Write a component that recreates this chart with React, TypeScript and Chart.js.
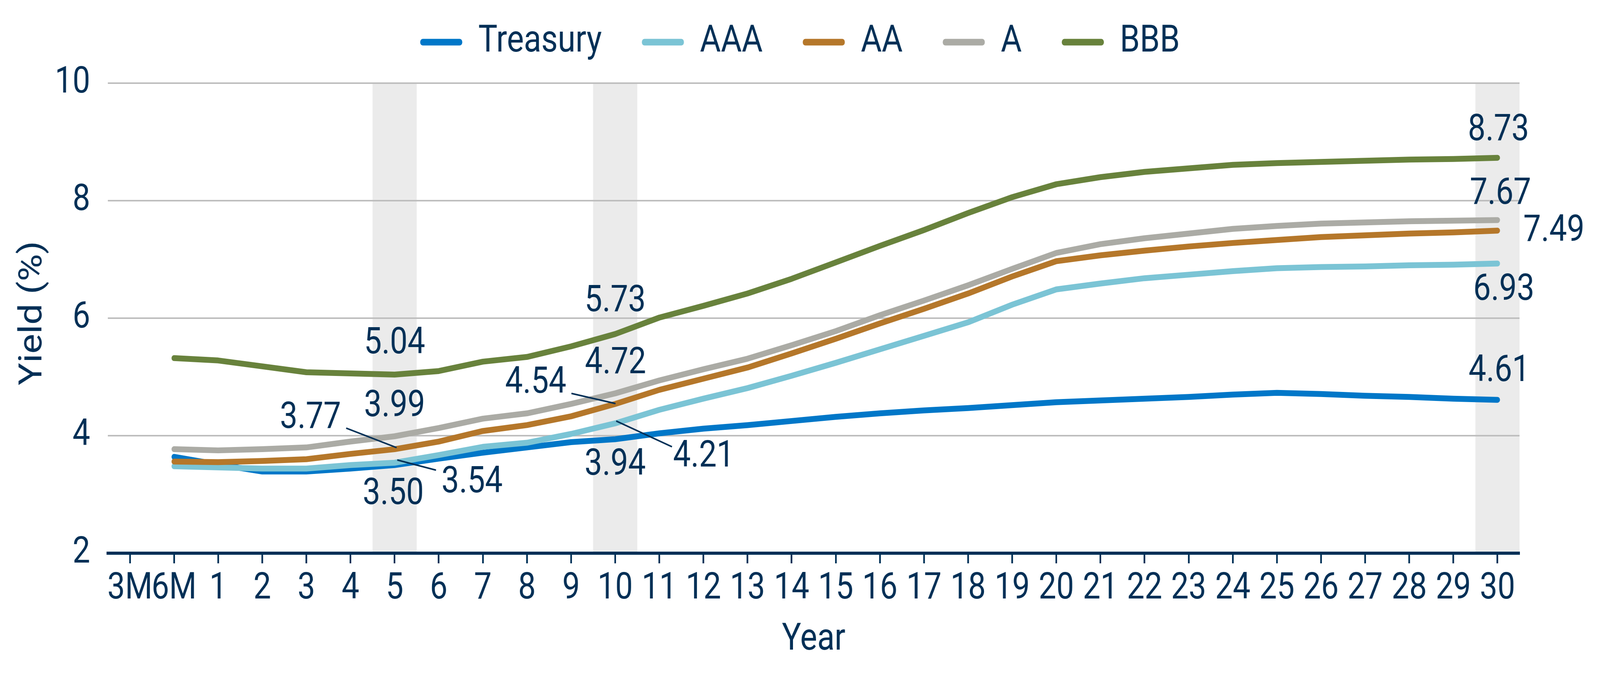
import React, { useEffect, useRef, useState } from 'react';
import { Chart, registerables } from 'chart.js';

Chart.register(...registerables);

// ---------- data ----------
const categories = [
  '3M', '6M', '1', '2', '3', '4', '5', '6', '7', '8', '9', '10',
  '11', '12', '13', '14', '15', '16', '17', '18', '19', '20',
  '21', '22', '23', '24', '25', '26', '27', '28', '29', '30',
];

const treasury = [
  null, 3.64, 3.51, 3.39, 3.39, 3.44, 3.50, 3.61, 3.71, 3.80, 3.89, 3.94,
  4.04, 4.12, 4.18, 4.25, 4.32, 4.38, 4.43, 4.47, 4.52, 4.57,
  4.60, 4.63, 4.66, 4.70, 4.73, 4.71, 4.68, 4.66, 4.63, 4.61,
];

const aaa = [
  null, 3.48, 3.46, 3.44, 3.44, 3.50, 3.54, 3.67, 3.81, 3.88, 4.03, 4.21,
  4.44, 4.63, 4.81, 5.02, 5.24, 5.47, 5.70, 5.93, 6.23, 6.49,
  6.59, 6.68, 6.74, 6.80, 6.85, 6.87, 6.88, 6.90, 6.91, 6.93,
];

const aa = [
  null, 3.56, 3.55, 3.57, 3.60, 3.69, 3.77, 3.90, 4.08, 4.18, 4.33, 4.54,
  4.78, 4.97, 5.16, 5.40, 5.65, 5.91, 6.16, 6.42, 6.71, 6.97,
  7.07, 7.15, 7.22, 7.28, 7.33, 7.38, 7.41, 7.44, 7.46, 7.49,
];

const singleA = [
  null, 3.77, 3.75, 3.77, 3.80, 3.90, 3.99, 4.13, 4.29, 4.38, 4.54, 4.72,
  4.94, 5.13, 5.31, 5.54, 5.78, 6.05, 6.30, 6.56, 6.84, 7.11,
  7.26, 7.36, 7.44, 7.52, 7.57, 7.61, 7.63, 7.65, 7.66, 7.67,
];

const bbb = [
  null, 5.32, 5.28, 5.18, 5.08, 5.06, 5.04, 5.10, 5.26, 5.34, 5.52, 5.73,
  6.01, 6.21, 6.42, 6.67, 6.95, 7.23, 7.50, 7.79, 8.06, 8.28,
  8.40, 8.49, 8.55, 8.61, 8.64, 8.66, 8.68, 8.70, 8.71, 8.73,
];

const seriesNames = ['Treasury', 'AAA', 'AA', 'A', 'BBB'];
const seriesValues = [treasury, aaa, aa, singleA, bbb];
const highlightedCategories = ['5', '10', '30'];
const yMin = 2;
const yMax = 10;
const yStep = 2;
const xTitle = 'Year';
const yTitle = 'Yield (%)';

// ---------- styles ----------
const DESIGN_W = 4792;
const DESIGN_H = 1729;
const NAVY = '#002F56';
const seriesColors = ['#0077C8', '#7BC4D5', '#B5772A', '#ABABA5', '#68823C'];
const NUM_FONT = "Roboto, sans-serif";
const TEXT_FONT = "Roboto, sans-serif";

const bandPlugin = {
  id: 'bands',
  beforeDraw(chart: any, _args: any, opts: any) {
    const { ctx, chartArea, scales } = chart;
    const x = scales.x;
    const labels: string[] = chart.data.labels;
    ctx.save();
    ctx.fillStyle = opts.color;
    (opts.categories || []).forEach((c: string) => {
      const i = labels.indexOf(c);
      if (i < 0) return;
      const l = x.getPixelForValue(i - 0.5);
      const r = x.getPixelForValue(i + 0.5);
      ctx.fillRect(l, chartArea.top, r - l, chartArea.bottom - chartArea.top);
    });
    ctx.restore();
  },
};

const axisTitlePlugin = {
  id: 'axisTitles',
  afterDraw(chart: any, _args: any, opts: any) {
    const { ctx, chartArea } = chart;
    ctx.save();
    ctx.fillStyle = opts.color;
    ctx.font = `${opts.size}px ${opts.family}`;
    ctx.textAlign = 'center';
    ctx.textBaseline = 'middle';
    ctx.fillText(opts.xText, (chartArea.left + chartArea.right) / 2, chartArea.bottom + opts.xOffset);
    ctx.translate(opts.yX, (chartArea.top + chartArea.bottom) / 2 + opts.yShift);
    ctx.rotate(-Math.PI / 2);
    ctx.fillText(opts.yText, 0, 0);
    ctx.restore();
  },
};

const valueLabelPlugin = {
  id: 'valueLabels',
  afterDatasetsDraw(chart: any, _args: any, opts: any) {
    const { ctx } = chart;
    const labels: string[] = chart.data.labels;
    ctx.save();
    ctx.font = `${opts.size}px ${opts.family}`;
    ctx.fillStyle = opts.color;
    ctx.strokeStyle = opts.color;
    ctx.lineWidth = opts.leaderWidth;
    ctx.textAlign = 'center';
    ctx.textBaseline = 'middle';
    (opts.items || []).forEach((it: any) => {
      const idx = labels.indexOf(it.cat);
      const meta = chart.getDatasetMeta(it.series);
      const el = meta.data[idx];
      const v = chart.data.datasets[it.series].data[idx];
      if (!el || v == null) return;
      if (it.leader) {
        ctx.beginPath();
        ctx.moveTo(el.x + it.leader[0], el.y + it.leader[1]);
        ctx.lineTo(el.x + it.leader[2], el.y + it.leader[3]);
        ctx.stroke();
      }
      ctx.fillText(Number(v).toFixed(2), el.x + it.dx, el.y + it.dy);
    });
    ctx.restore();
  },
};

export default function App() {
  const canvasRef = useRef<HTMLCanvasElement | null>(null);
  const [sx, setSx] = useState(1);
  const [sy, setSy] = useState(1);

  useEffect(() => {
    document.body.style.margin = '0';
    document.body.style.overflow = 'hidden';
    setSx(window.innerWidth / DESIGN_W);
    setSy(window.innerHeight / DESIGN_H);
  }, []);

  useEffect(() => {
    const canvas = canvasRef.current;
    if (!canvas) return;

    const datasets = seriesNames.map((name, i) => ({
      label: name,
      data: seriesValues[i],
      borderColor: seriesColors[i],
      backgroundColor: seriesColors[i],
      borderWidth: 15,
      pointRadius: 0,
      pointHoverRadius: 0,
      tension: 0,
      borderCapStyle: 'round',
      borderJoinStyle: 'round',
      order: seriesNames.length - i,
    }));

    const chart = new Chart(canvas, {
      type: 'line',
      data: { labels: categories, datasets: datasets as any },
      plugins: [bandPlugin, valueLabelPlugin, axisTitlePlugin],
      options: {
        animation: false,
        responsive: true,
        maintainAspectRatio: false,
        devicePixelRatio: 1,
        events: [],
        layout: { padding: { top: -60, left: 0, right: 0, bottom: 0 } },
        plugins: {
          tooltip: { enabled: false },
          legend: {
            display: true,
            position: 'top',
            weight: 3000,
            labels: {
              boxWidth: 126,
              boxHeight: 17,
              padding: 120,
              color: NAVY,
              font: { family: TEXT_FONT, size: 96 },
              generateLabels: (ch: any) =>
                ch.data.datasets.map((ds: any, i: number) => ({
                  text: ds.label,
                  fillStyle: ds.borderColor,
                  strokeStyle: ds.borderColor,
                  lineWidth: 0,
                  hidden: false,
                  datasetIndex: i,
                  borderRadius: 8,
                  fontColor: NAVY,
                })),
            },
          } as any,
          title: {
            display: true,
            text: '',
            font: { size: 1, lineHeight: 1 },
            padding: { top: 0, bottom: 46 },
          },
          bands: { color: '#EBEBEB', categories: highlightedCategories },
          axisTitles: {
            color: NAVY,
            family: TEXT_FONT,
            size: 96,
            xText: xTitle,
            xOffset: 223,
            yText: yTitle,
            yX: 100,
            yShift: -13,
          },
          valueLabels: {
            family: NUM_FONT,
            size: 94,
            color: NAVY,
            leaderWidth: 4,
            items: [
              // year 5
              { series: 4, cat: '5', dx: 0, dy: -78 },
              { series: 3, cat: '5', dx: 0, dy: -75 },
              { series: 2, cat: '5', dx: -252, dy: -78, leader: [6, -4, -145, -54] },
              { series: 1, cat: '5', dx: 232, dy: 52, leader: [8, -7, 124, 19] },
              { series: 0, cat: '5', dx: -4, dy: 76 },
              // year 10
              { series: 4, cat: '10', dx: 0, dy: -82 },
              { series: 3, cat: '10', dx: 1, dy: -75 },
              { series: 2, cat: '10', dx: -238, dy: -52, leader: [1, -1, -131, -27] },
              { series: 1, cat: '10', dx: 265, dy: 87, leader: [3, -6, 170, 60] },
              { series: 0, cat: '10', dx: 0, dy: 67 },
              // year 30
              { series: 4, cat: '30', dx: 3, dy: -69 },
              { series: 3, cat: '30', dx: 9, dy: -65 },
              { series: 2, cat: '30', dx: 169, dy: 3 },
              { series: 1, cat: '30', dx: 19, dy: 69 },
              { series: 0, cat: '30', dx: 5, dy: -72 },
            ],
          },
        } as any,
        scales: {
          x: {
            type: 'category',
            offset: true,
            grid: {
              display: true,
              drawOnChartArea: false,
              drawTicks: true,
              tickLength: 26,
              tickWidth: 5,
              tickColor: NAVY,
            },
            border: { display: true, color: NAVY, width: 8 },
            ticks: {
              autoSkip: false,
              maxRotation: 0,
              minRotation: 0,
              padding: 10,
              color: NAVY,
              font: { family: NUM_FONT, size: 94 },
            },
            title: { display: false },
            afterFit: (s: any) => {
              s.height = 312;
            },
          },
          y: {
            type: 'linear',
            position: 'left',
            min: yMin,
            max: yMax,
            ticks: {
              stepSize: yStep,
              padding: 53,
              color: NAVY,
              font: { family: NUM_FONT, size: 94 },
            },
            grid: { color: '#BEBEBE', lineWidth: 4, drawTicks: false },
            border: { display: false },
            title: { display: false },
            afterFit: (s: any) => {
              s.width = 323;
            },
          },
          yRight: {
            type: 'linear',
            position: 'right',
            min: 0,
            max: 1,
            display: true,
            ticks: { display: false },
            grid: { display: false },
            border: { display: false },
            afterFit: (s: any) => {
              s.width = 241;
            },
          },
        } as any,
      },
    });

    return () => {
      chart.destroy();
    };
  }, []);

  return (
    <div style={{ width: '100vw', height: '100vh', overflow: 'hidden', position: 'relative' }}>
      <div
        style={{
          position: 'absolute',
          left: 0,
          top: 0,
          width: `${DESIGN_W}px`,
          height: `${DESIGN_H}px`,
          transform: `scale(${sx}, ${sy})`,
          transformOrigin: '0 0',
        }}
      >
        <canvas ref={canvasRef} />
      </div>
    </div>
  );
}
